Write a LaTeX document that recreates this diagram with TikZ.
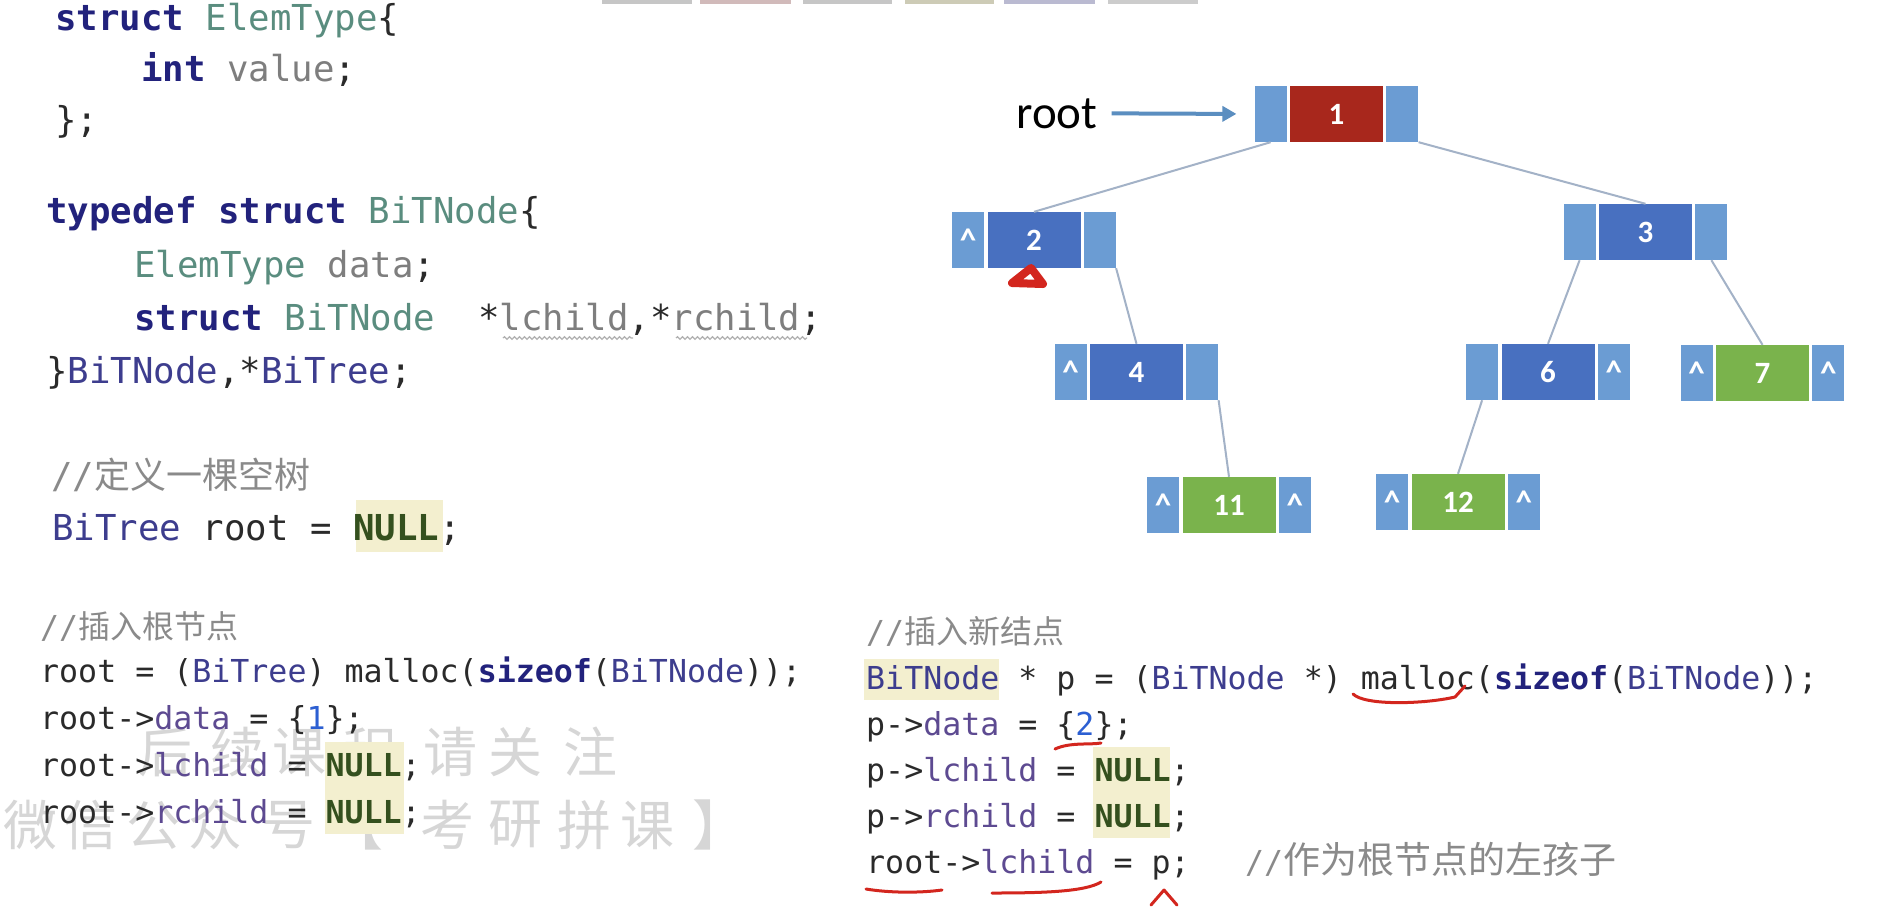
\documentclass[tikz,border=0pt]{standalone}
\usepackage{fontspec}
\usetikzlibrary{positioning,arrows.meta,decorations.pathmorphing}
\newfontfamily\calfont{Carlito}
\newfontfamily\codefont{DejaVu Sans Mono}
\newfontfamily\cjk{Noto Sans CJK SC}
\definecolor{ptrc}{HTML}{6B9CD3}
\definecolor{bluec}{HTML}{4870C0}
\definecolor{greenc}{HTML}{7AB34C}
\definecolor{redc}{HTML}{A8271C}
\definecolor{linkc}{HTML}{A3B2C7}
\definecolor{arrowc}{HTML}{5B8EC0}
\definecolor{inkc}{HTML}{D3261E}
\definecolor{kwc}{HTML}{22227C}
\definecolor{tyc}{HTML}{5A8D7F}
\definecolor{fldc}{HTML}{7E7E7E}
\definecolor{tnc}{HTML}{3D3D8E}
\definecolor{memc}{HTML}{5D4A91}
\definecolor{nulc}{HTML}{34501E}
\definecolor{numc}{HTML}{2C5FD2}
\definecolor{cmc}{HTML}{8A8A8A}
\definecolor{hlc}{HTML}{F3EFCF}
\definecolor{wmc}{HTML}{D6D6D6}
\definecolor{txtc}{HTML}{2A2A2A}
\newcommand{\kw}[1]{\textcolor{kwc}{\bfseries #1}}
\newcommand{\ty}[1]{\textcolor{tyc}{#1}}
\newcommand{\fld}[1]{\textcolor{fldc}{#1}}
\newcommand{\tn}[1]{\textcolor{tnc}{#1}}
\newcommand{\mem}[1]{\textcolor{memc}{#1}}
\newcommand{\nul}[1]{\textcolor{nulc}{\bfseries #1}}
\newcommand{\num}[1]{\textcolor{numc}{#1}}

\begin{document}
\begin{tikzpicture}[x=1pt, y=-1pt]
\tikzstyle{ptr}=[rectangle, fill=ptrc, minimum width=32, minimum height=56, inner sep=0, text=white, font=\calfont\bfseries\fontsize{33}{33}\selectfont]
\tikzstyle{dat}=[rectangle, minimum width=93, minimum height=56, inner sep=0, text=white, font=\calfont\bfseries\fontsize{31}{31}\selectfont]
\tikzstyle{link}=[draw=linkc, line width=2]
\tikzstyle{codeT}=[anchor=base west, inner sep=0, text=txtc, font=\codefont\fontsize{35.7}{40}\selectfont]
\tikzstyle{codeB}=[anchor=base west, inner sep=0, text=txtc, font=\codefont\fontsize{31.6}{36}\selectfont]
\tikzstyle{wm}=[inner sep=0, text=wmc, font=\cjk\fontsize{54}{54}\selectfont]
\tikzstyle{ink}=[draw=inkc, line width=3, line cap=round, line join=round]
\useasboundingbox (0,0) rectangle (1887,906);
\fill[white] (0,0) rectangle (1887,906);
% bars cut off at the top
\fill[gray!45] (602,0) rectangle (692,4);
\fill[red!20!gray!45] (700,0) rectangle (791,4);
\fill[gray!45] (803,0) rectangle (892,4);
\fill[olive!25!gray!45] (905,0) rectangle (994,4);
\fill[blue!20!gray!45] (1004,0) rectangle (1095,4);
\fill[gray!40] (1108,0) rectangle (1198,4);
% watermark
\foreach \c/\x [count=\k] in {后/165,续/237,课/299,程/370,请/450,关/515,注/590}
  \node[wm] (wa\k) at (\x,752) {\c};
\foreach \c/\x [count=\k] in {微/31,信/90,公/153,众/215,号/288,【/356,考/447,研/515,拼/584,课/647,】/719}
  \node[wm] (wb\k) at (\x,825) {\c};
% highlights
\fill[hlc] (356,500) rectangle (443,552);
\fill[hlc] (325,742) rectangle (404,834);
\fill[hlc] (864,659) rectangle (999,700);
\fill[hlc] (1093,747) rectangle (1170,838);
% struct code
\node[codeT] (c1) at (55,30) {\kw{struct} \ty{ElemType}\{};
\node[codeT] (c2) at (141,81) {\kw{int} \fld{value};};
\node[codeT] (c3) at (55,132) {\};};
\node[codeT] (c4) at (46,223) {\kw{typedef} \kw{struct} \ty{BiTNode}\{};
\node[codeT] (c5) at (134,277) {\ty{ElemType} \fld{data};};
\node[codeT] (c6) at (134,330) {\kw{struct} \ty{BiTNode}\ \ *\fld{lchild},*\fld{rchild};};
\node[codeT] (c7) at (46,383) {\}\tn{BiTNode},*\tn{BiTree};};
\node[codeT, text=cmc] (c8) at (51,488) {//{\cjk\fontsize{36}{36}\selectfont 定义一棵空树}};
\node[codeT] (c9) at (52,540) {\tn{BiTree} root = \nul{NULL};};
\draw[fldc!60, line width=1.2, decorate, decoration={snake, amplitude=1.3, segment length=5}] (503,338) -- (633,338);
\draw[fldc!60, line width=1.2, decorate, decoration={snake, amplitude=1.3, segment length=5}] (676,338) -- (807,338);
% insert root
\node[codeB, text=cmc] (c10) at (40,638) {//{\cjk\fontsize{32}{32}\selectfont 插入根节点}};
\node[codeB] (c11) at (40,682) {root = (\tn{BiTree}) malloc(\kw{sizeof}(\tn{BiTNode}));};
\node[codeB] (c12) at (40,729) {root->\mem{data} = \{\num{1}\};};
\node[codeB] (c13) at (40,776) {root->\mem{lchild} = \nul{NULL};};
\node[codeB] (c14) at (40,823) {root->\mem{rchild} = \nul{NULL};};
% insert new node
\node[codeB, text=cmc] (c15) at (866,643) {//{\cjk\fontsize{32}{32}\selectfont 插入新结点}};
\node[codeB] (c16) at (866,689) {\tn{BiTNode} * p = (\tn{BiTNode} *) malloc(\kw{sizeof}(\tn{BiTNode}));};
\node[codeB] (c17) at (866,735) {p->\mem{data} = \{\num{2}\};};
\node[codeB] (c18) at (866,781) {p->\mem{lchild} = \nul{NULL};};
\node[codeB] (c19) at (866,827) {p->\mem{rchild} = \nul{NULL};};
\node[codeB] (c20) at (866,873) {root->\mem{lchild} = p;};
\node[codeB, text=cmc] (c21) at (1245,873) {//{\cjk\fontsize{37}{37}\selectfont 作为根节点的左孩子}};
% tree
\node[dat, fill=redc] (n1) at (1336.5,114) {1};
\node[ptr, left=3pt of n1] (n1l) {};
\node[ptr, right=3pt of n1] (n1r) {};
\node[dat, fill=bluec] (n2) at (1034,240) {2};
\node[ptr, left=3pt of n2] (n2l) {\textasciicircum};
\node[ptr, right=3pt of n2] (n2r) {};
\node[dat, fill=bluec] (n3) at (1645.5,232) {3};
\node[ptr, left=3pt of n3] (n3l) {};
\node[ptr, right=3pt of n3] (n3r) {};
\node[dat, fill=bluec] (n4) at (1136.5,372) {4};
\node[ptr, left=3pt of n4] (n4l) {\textasciicircum};
\node[ptr, right=3pt of n4] (n4r) {};
\node[dat, fill=bluec] (n6) at (1548,372) {6};
\node[ptr, left=3pt of n6] (n6l) {};
\node[ptr, right=3pt of n6] (n6r) {\textasciicircum};
\node[dat, fill=greenc] (n7) at (1762.5,373) {7};
\node[ptr, left=3pt of n7] (n7l) {\textasciicircum};
\node[ptr, right=3pt of n7] (n7r) {\textasciicircum};
\node[dat, fill=greenc] (n11) at (1229,505) {11};
\node[ptr, left=3pt of n11] (n11l) {\textasciicircum};
\node[ptr, right=3pt of n11] (n11r) {\textasciicircum};
\node[dat, fill=greenc] (n12) at (1458,502) {12};
\node[ptr, left=3pt of n12] (n12l) {\textasciicircum};
\node[ptr, right=3pt of n12] (n12r) {\textasciicircum};
\foreach \i/\j in {n1l.south/n2.north,n1r.south east/n3.north,n2r.south east/n4.north,n3l.south/n6.north,n3r.south/n7.north,n4r.south east/n11.north,n6l.south/n12.north}{\draw[link] (\i) -- (\j);}
\node[anchor=base, inner sep=0, font=\calfont\fontsize{47}{47}\selectfont] (rootptr) at (1057,128) {root};
\draw[arrowc, line width=4, -{Triangle[length=14pt,width=15pt]}, shorten <=14pt, shorten >=18pt] (rootptr.east) -- (n1l.west);
% red pen marks
\draw[ink, line width=8] (1031,268) -- (1043,284) -- (1012,283) -- cycle;
\draw[ink] (1353,694) .. controls (1365,706) and (1425,704) .. (1455,697) -- (1465,686);
\draw[ink] (1055,749) .. controls (1070,742) and (1090,745) .. (1101,743);
\draw[ink] (866,889) .. controls (890,893) and (920,893) .. (942,890);
\draw[ink] (992,893) .. controls (1040,893) and (1085,892) .. (1101,882);
\draw[ink] (1151,905) -- (1164,890) -- (1177,905);
\end{tikzpicture}
\end{document}
